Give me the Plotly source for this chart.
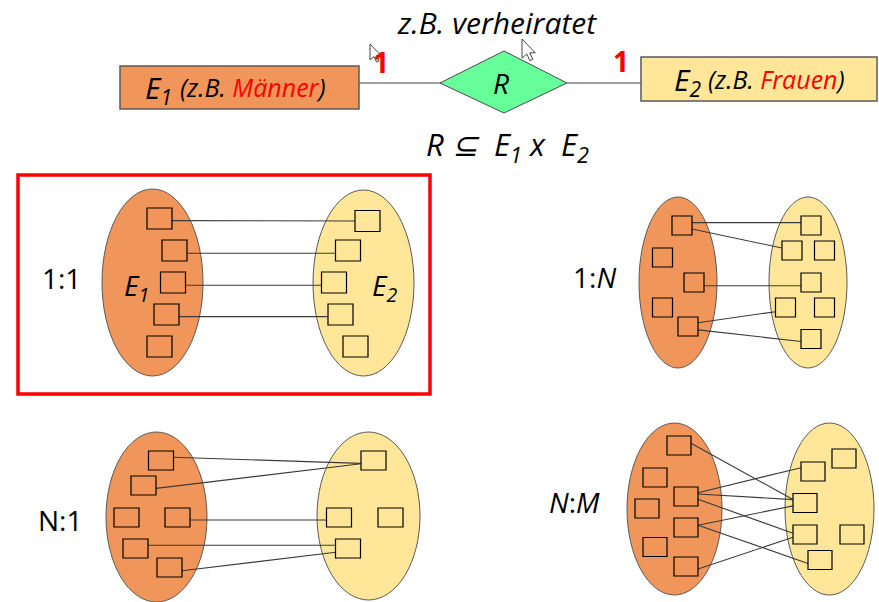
import plotly.graph_objects as go

W, H = 879, 602
ORANGE = "#F0965A"
YELLOW = "#FFE699"
GREEN = "#66FF99"
FONT = "Open Sans"

# ---------------- data: panels (ellipses, element boxes, links) ----------------
panel_labels = ["1:1", "1:<i>N</i>", "N:1", "<i>N</i>:<i>M</i>"]
label_pos = [(61.5, 278), (594, 277), (60, 520), (574, 502)]
left_ell = [(152.5, 282.5, 50.5, 93.5), (678, 282.5, 39, 85.5), (156.5, 517, 50.5, 85), (674.5, 509, 47.5, 86)]
right_ell = [(363.5, 283, 50.5, 93), (808, 282.5, 39, 85.5), (368.5, 516, 51.5, 84), (829.5, 509, 44.5, 86)]
box_size = [(25, 21), (20, 19), (25, 19), (24, 19)]
left_boxes = [
    [(159.5, 218.5), (174.5, 250.5), (173, 282.5), (166.5, 314.5), (159.5, 346.5)],
    [(682, 225.5), (662.5, 257.5), (694, 282.5), (662.5, 307.5), (688, 326.5)],
    [(161, 460.5), (143.5, 485.5), (126.5, 517.5), (177.5, 517.5), (135.5, 548.5), (169.5, 567.5)],
    [(679, 445.5), (655, 477.5), (686, 496.5), (647, 508.5), (686, 527.5), (655, 547), (686, 566.5)],
]
right_boxes = [
    [(367.5, 221), (348, 250.5), (334, 282.5), (340.5, 314.5), (355.5, 346.5)],
    [(811, 225.5), (792, 250.5), (824.5, 250.5), (811, 282.5), (785.5, 307.5), (824.5, 307.5), (811, 339)],
    [(373.5, 460.5), (339, 517.5), (390.5, 517.5), (348, 548.5)],
    [(844, 458.5), (813, 471.5), (805, 503), (805, 534.5), (852, 534.5), (820, 560)],
]
links = [
    [(0, 0, 0.6, 0.5), (1, 1, 0.63, 0.63), (2, 2, 0.63, 0.63), (3, 3, 0.6, 0.6)],
    [(0, 0, 0.35, 0.35), (0, 1, 0.68, 0.37), (2, 3, 0.67, 0.67), (4, 4, 0.3, 0.72), (4, 6, 0.68, 0.63)],
    [(0, 0, 0.33, 0.65), (1, 0, 0.65, 0.67), (3, 1, 0.63, 0.63), (4, 3, 0.33, 0.33), (5, 3, 0.67, 0.7)],
    [(0, 2, 0.38, 0.32), (2, 1, 0.3, 0.3), (2, 2, 0.37, 0.32), (2, 3, 0.65, 0.43),
     (4, 2, 0.38, 0.65), (4, 5, 0.38, 0.68), (6, 3, 0.63, 0.65)],
]
ellipse_labels = [("E<sub>1</sub>", 136, 287), ("E<sub>2</sub>", 384, 287)]

shapes = []
annotations = []

def add_text(x, y, text, size, color="black", italic=False, bold=False, xanchor="center"):
    annotations.append(dict(
        x=x, y=y, xref="x", yref="y", text=text, showarrow=False,
        xanchor=xanchor, yanchor="middle",
        font=dict(family=FONT, size=size, color=color,
                  style="italic" if italic else "normal",
                  weight="bold" if bold else "normal"),
    ))

# ---------------- top ER diagram ----------------
shapes.append(dict(type="line", x0=359, y0=83, x1=441, y1=83, line=dict(color="#7F7F7F", width=1.5)))
shapes.append(dict(type="line", x0=567, y0=83, x1=641, y1=83, line=dict(color="#7F7F7F", width=1.5)))
shapes.append(dict(type="rect", x0=120, y0=66, x1=359, y1=109, fillcolor=ORANGE, line=dict(color="#5A5A5A", width=1.5)))
shapes.append(dict(type="rect", x0=641, y0=57, x1=877, y1=101, fillcolor=YELLOW, line=dict(color="#5A5A5A", width=1.5)))
shapes.append(dict(type="path", path="M 440 83 L 504 51 L 567 83 L 504 113 Z",
                   fillcolor=GREEN, line=dict(color="#4A4A4A", width=1)))

add_text(497, 22, "z.B. verheiratet", 30, italic=True)
add_text(143, 89, "E<sub>1</sub>", 30, italic=True, xanchor="left")
add_text(178, 87, "(z.B. <span style='color:red'>Männer</span>)", 25, italic=True, xanchor="left")
add_text(672, 81, "E<sub>2</sub>", 30, italic=True, xanchor="left")
add_text(706, 79, "(z.B. <span style='color:red'>Frauen</span>)", 25, italic=True, xanchor="left")
add_text(501, 83, "R", 28, italic=True)
add_text(381, 62, "1", 28, color="red", bold=True)
add_text(621, 61, "1", 28, color="red", bold=True)
add_text(507, 146, "R ⊆  E<sub>1</sub> x  E<sub>2</sub>", 31, italic=True)

def cursor(tx, ty, s):
    pts = [(0, 0), (0, 16), (4, 12.5), (6.5, 18), (9, 17), (6.5, 11.5), (11, 11.5)]
    p = "M " + " L ".join(f"{tx + px * s:.1f} {ty + py * s:.1f}" for px, py in pts) + " Z"
    shapes.append(dict(type="path", path=p, fillcolor="white", line=dict(color="#444444", width=1)))

cursor(370, 44, 1.0)
cursor(522, 39, 1.2)

# ---------------- highlight frame around 1:1 ----------------
shapes.append(dict(type="rect", x0=18, y0=175, x1=430, y1=394, line=dict(color="red", width=3.5), fillcolor="rgba(0,0,0,0)"))

# ---------------- panels ----------------
for i in range(4):
    for (cx, cy, rx, ry), col in ((left_ell[i], ORANGE), (right_ell[i], YELLOW)):
        shapes.append(dict(type="circle", x0=cx - rx, x1=cx + rx, y0=cy - ry, y1=cy + ry,
                           fillcolor=col, line=dict(color="#595959", width=1)))
    bw, bh = box_size[i]
    for li, ri, lf, rf in links[i]:
        lx, ly = left_boxes[i][li]
        rx_, ry_ = right_boxes[i][ri]
        shapes.append(dict(type="line",
                           x0=lx + bw / 2, y0=ly - bh / 2 + lf * bh,
                           x1=rx_ - bw / 2, y1=ry_ - bh / 2 + rf * bh,
                           line=dict(color="#3A3A3A", width=1.1)))
    for bx, by in left_boxes[i] + right_boxes[i]:
        shapes.append(dict(type="rect", x0=bx - bw / 2, x1=bx + bw / 2, y0=by - bh / 2, y1=by + bh / 2,
                           fillcolor="rgba(0,0,0,0)", line=dict(color="black", width=1.2)))
    add_text(label_pos[i][0], label_pos[i][1], panel_labels[i], 28)

for t, x, y in ellipse_labels:
    add_text(x, y, t, 28, italic=True)

fig = go.Figure()
fig.add_trace(go.Scatter(x=[0, W], y=[0, H], mode="markers", marker=dict(opacity=0), hoverinfo="skip", showlegend=False))
fig.update_layout(
    width=W, height=H, margin=dict(l=0, r=0, t=0, b=0),
    paper_bgcolor="white", plot_bgcolor="white",
    xaxis=dict(range=[0, W], visible=False, fixedrange=True),
    yaxis=dict(range=[H, 0], visible=False, fixedrange=True),
    shapes=shapes, annotations=annotations, showlegend=False,
)
fig.write_html("out.html", config={"displayModeBar": False},
               post_script="document.body.style.margin='0px';document.body.style.padding='0px';")
